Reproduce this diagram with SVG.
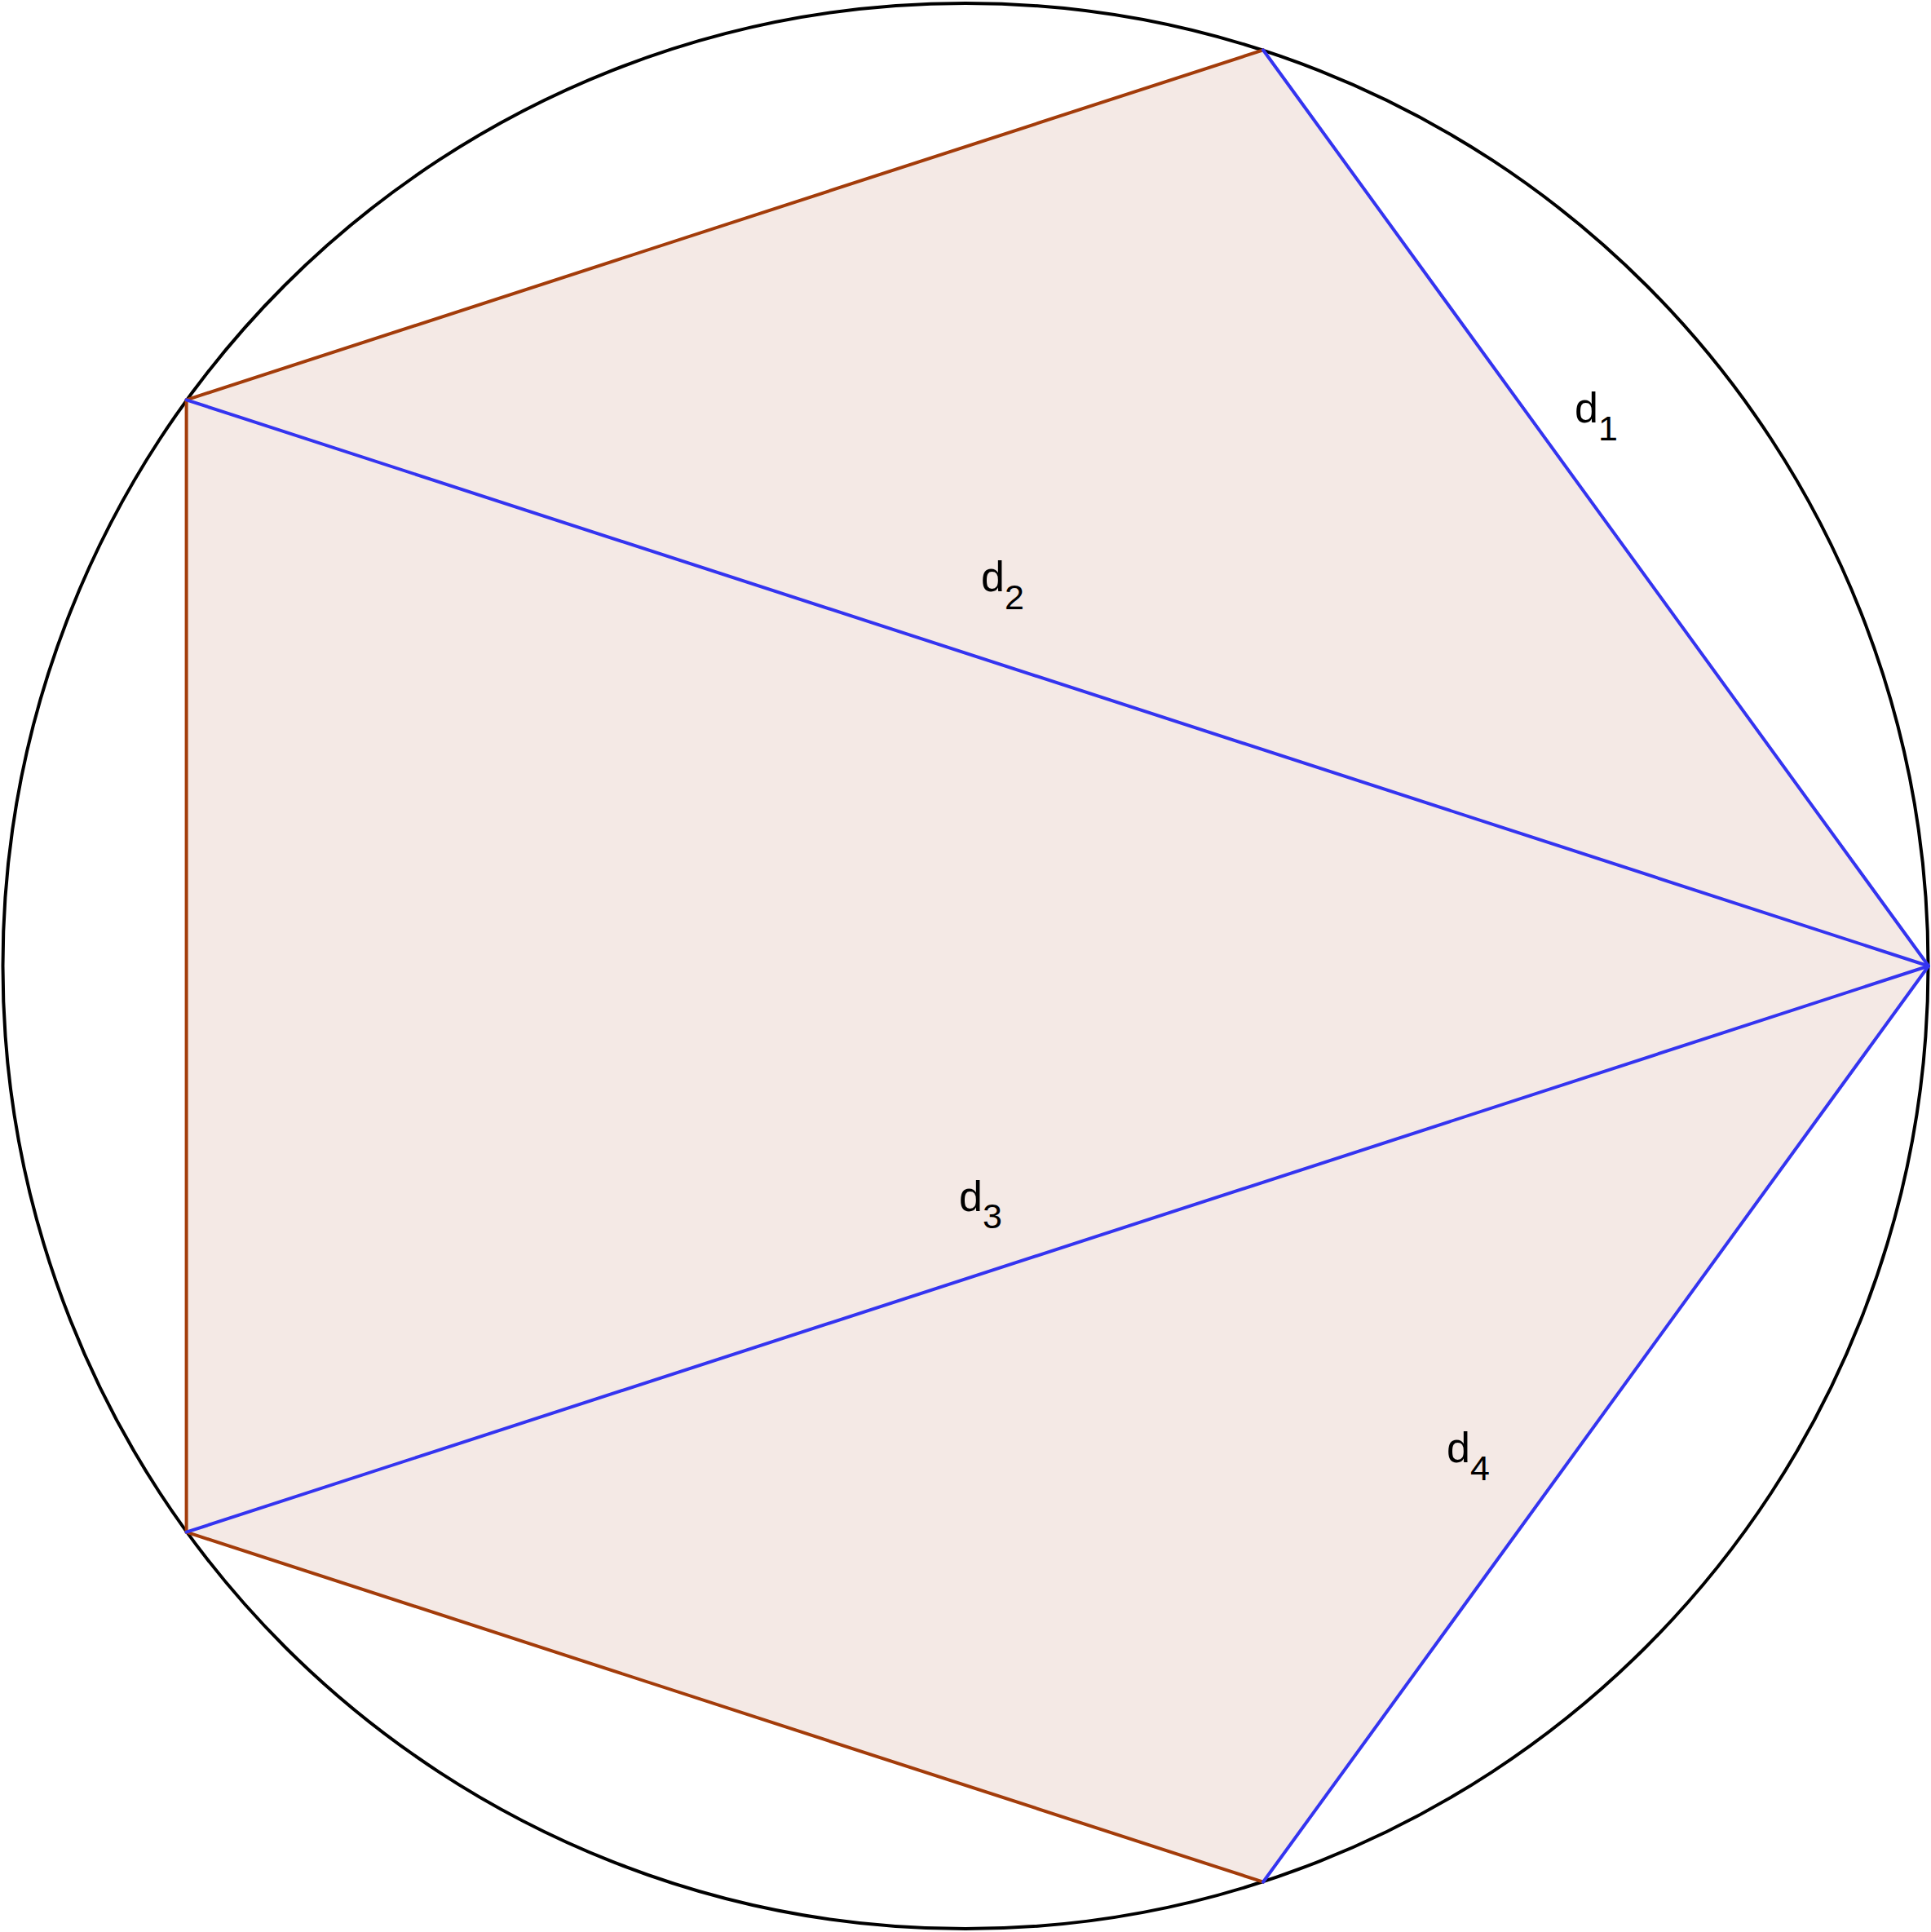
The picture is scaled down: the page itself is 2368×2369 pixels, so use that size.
<svg xmlns="http://www.w3.org/2000/svg" width="2368" height="2369" viewBox="0 0 2368 2369">
<style>
.edge{stroke:#a33c0a;stroke-width:4;fill:none;stroke-linecap:round}
.diag{stroke:#3434f0;stroke-width:4;fill:none;stroke-linecap:round}
.lbl{font-family:"Liberation Sans",Arial,sans-serif;font-size:52px;fill:#000}
.sub{font-size:43px}
</style>
<rect width="2368" height="2369" fill="#ffffff"/>
<g id="circle">
<circle cx="1184" cy="1184.5" r="1180.5" fill="none" stroke="#000" stroke-width="4"/>
</g>
<g id="pentagon">
<polygon points="1549,61.3 228.6,490.3 228.6,1878.7 1549,2307.7 2365,1184.5" fill="#f4e9e5" stroke="none"/>
</g>
<g id="connectors">
<line class="edge" x1="1549" y1="61.3" x2="228.6" y2="490.3"/>
<line class="edge" x1="228.6" y1="490.3" x2="228.6" y2="1878.7"/>
<line class="edge" x1="228.6" y1="1878.7" x2="1549" y2="2307.7"/>
<line class="diag" x1="1549" y1="61.3" x2="2365" y2="1184.5"/>
<line class="diag" x1="228.6" y1="490.3" x2="2365" y2="1184.5"/>
<line class="diag" x1="228.6" y1="1878.7" x2="2365" y2="1184.5"/>
<line class="diag" x1="1549" y1="2307.7" x2="2365" y2="1184.5"/>
</g>
<g id="label-d1"><text class="lbl" x="1931" y="518">d<tspan class="sub" dy="22">1</tspan></text></g>
<g id="label-d2"><text class="lbl" x="1203" y="725">d<tspan class="sub" dy="22">2</tspan></text></g>
<g id="label-d3"><text class="lbl" x="1176" y="1485">d<tspan class="sub" dy="21">3</tspan></text></g>
<g id="label-d4"><text class="lbl" x="1774" y="1793">d<tspan class="sub" dy="22">4</tspan></text></g>
</svg>
